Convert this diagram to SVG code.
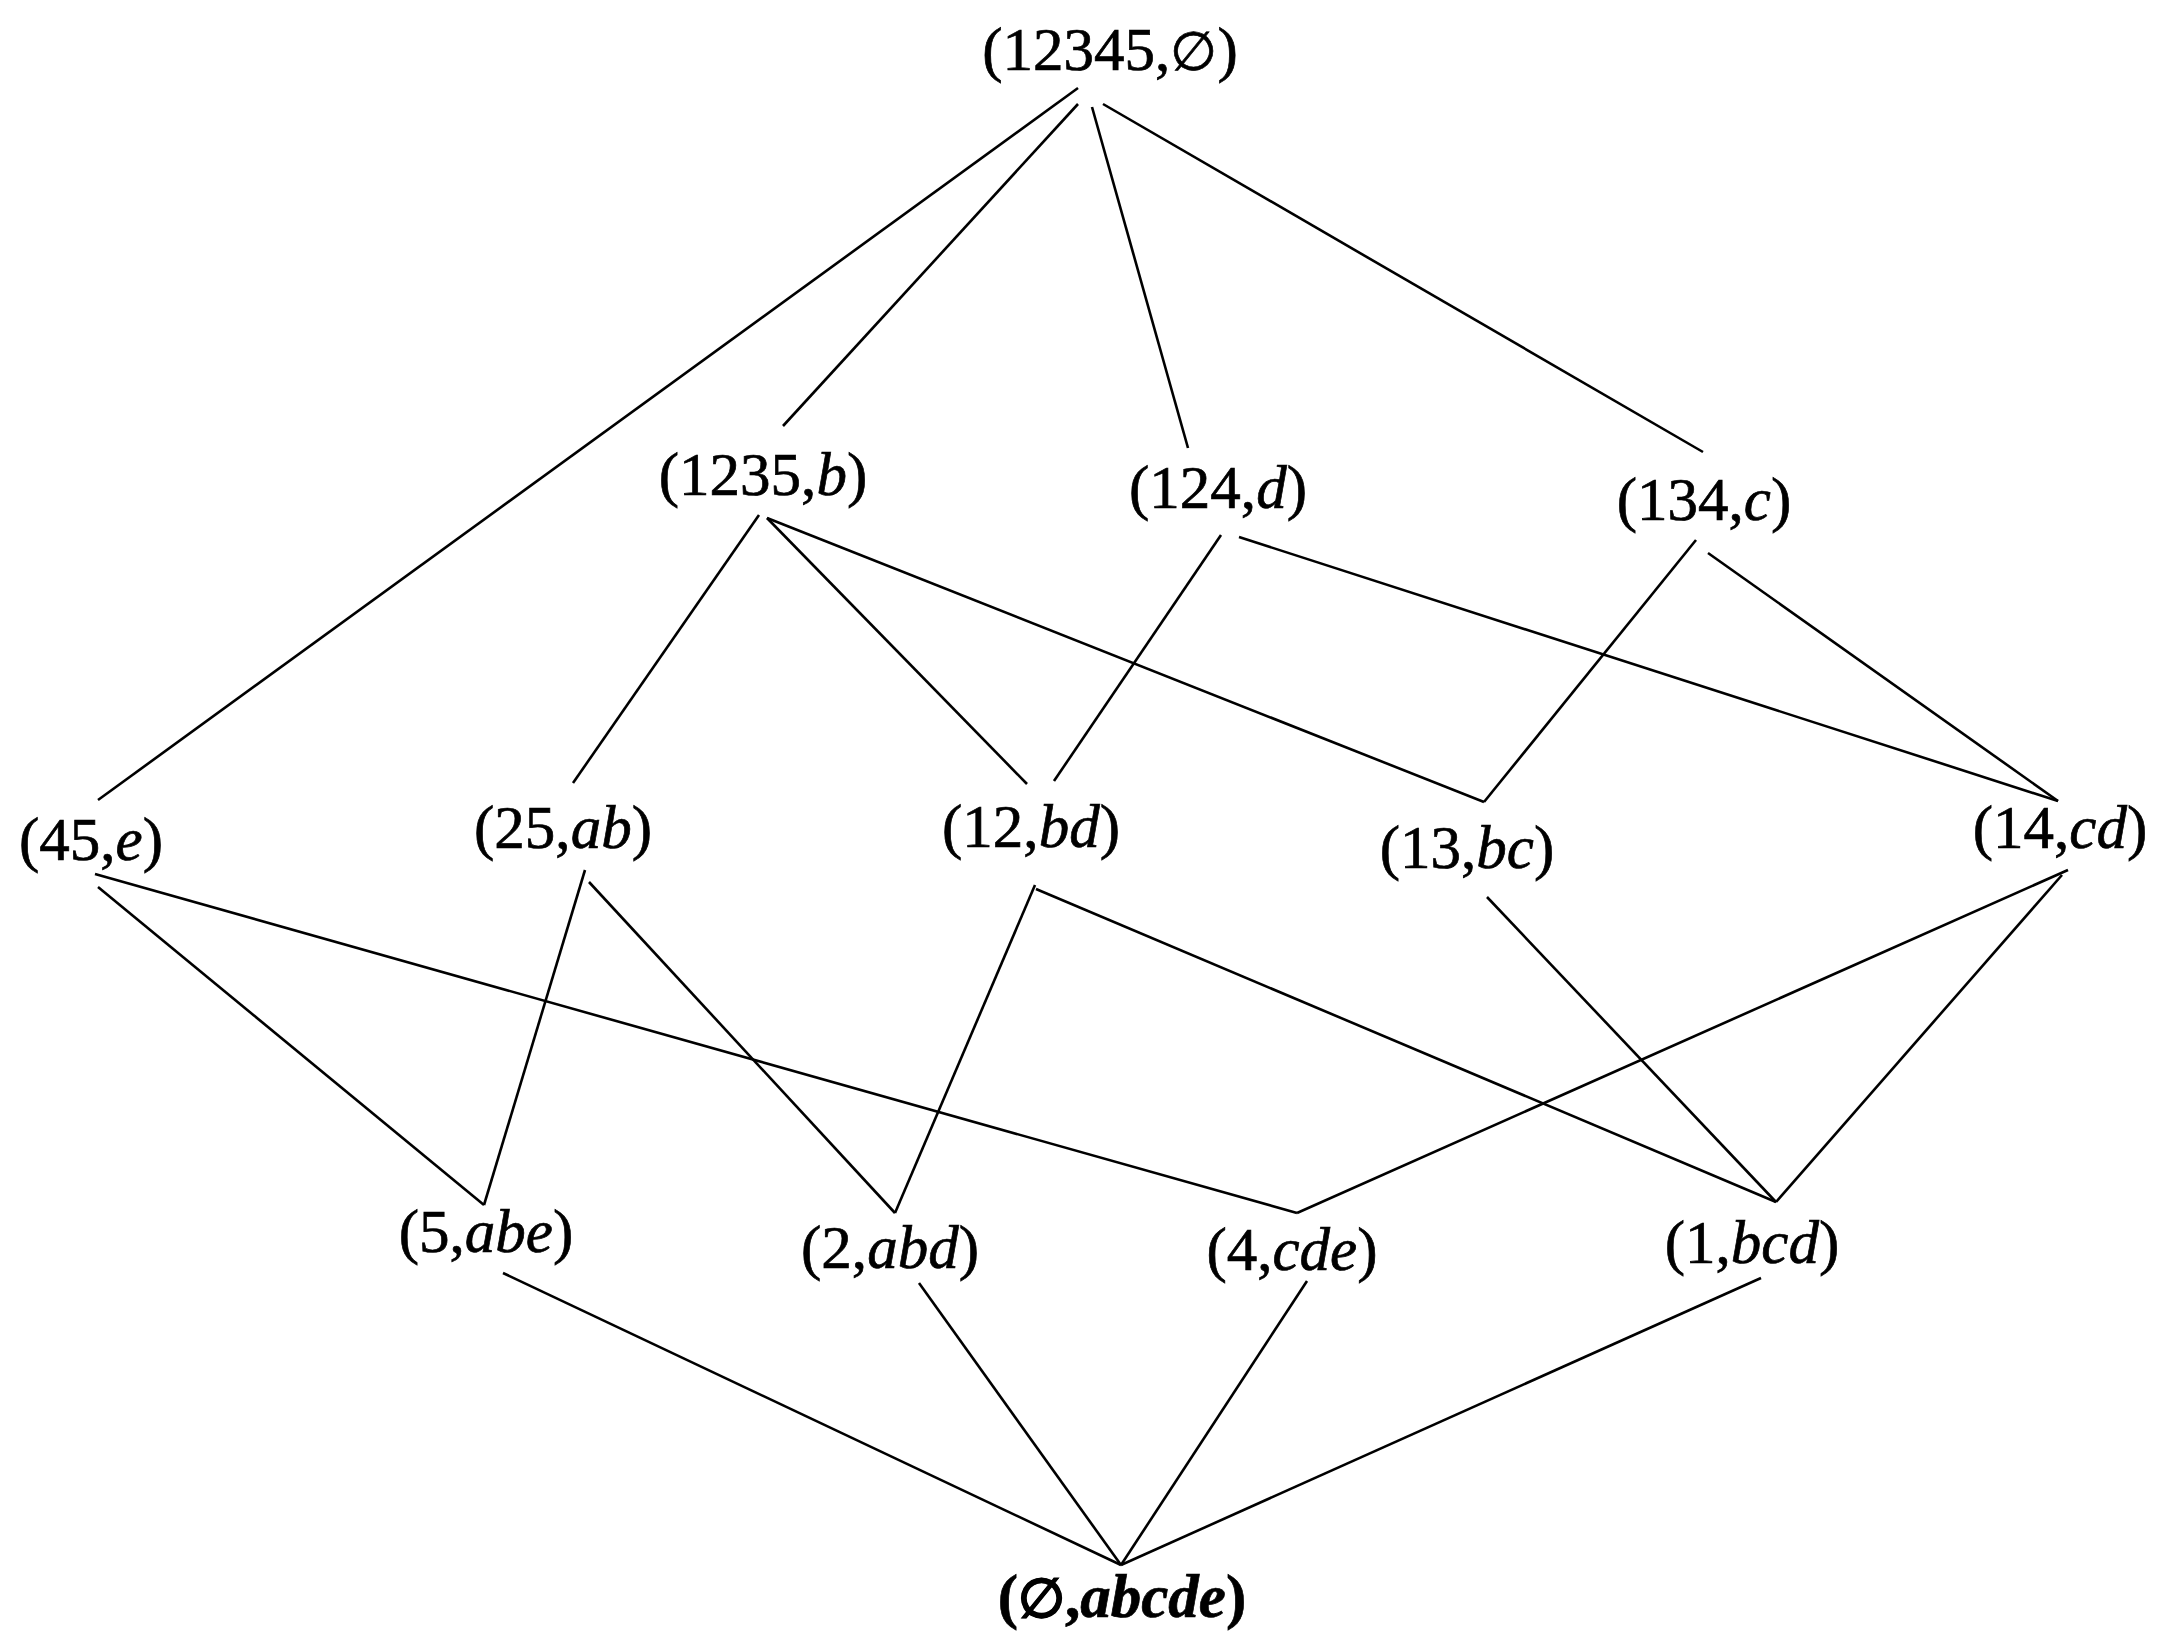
<svg xmlns="http://www.w3.org/2000/svg" width="2165" height="1646" viewBox="0 0 2165 1646">
<style>
text{font-family:"Liberation Serif","Times New Roman",serif;font-size:61px;fill:#000;stroke:#000;stroke-width:0.7;text-anchor:middle}
.i{font-style:italic}
.e{font-family:"DejaVu Serif","Liberation Serif",serif;font-size:54px}
.b{font-weight:bold}
line{stroke:#000;stroke-width:2.6;stroke-linecap:butt}
</style>
<rect width="2165" height="1646" fill="#fff"/>
<g id="connectors">
<line x1="1078" y1="88" x2="98" y2="800"/>
<line x1="1078" y1="104" x2="783" y2="426"/>
<line x1="1092" y1="107" x2="1188" y2="448"/>
<line x1="1103" y1="104" x2="1703" y2="452"/>
<line x1="759" y1="515" x2="573" y2="783"/>
<line x1="767" y1="518" x2="1027" y2="784"/>
<line x1="767" y1="518" x2="1484" y2="802"/>
<line x1="1221" y1="535" x2="1054" y2="781"/>
<line x1="1239" y1="537" x2="2058" y2="801"/>
<line x1="1696" y1="540" x2="1484" y2="802"/>
<line x1="1708" y1="553" x2="2058" y2="801"/>
<line x1="98" y1="887" x2="484" y2="1205"/>
<line x1="95" y1="874" x2="1297" y2="1213"/>
<line x1="585" y1="870" x2="484" y2="1205"/>
<line x1="589" y1="882" x2="895" y2="1213"/>
<line x1="1035" y1="885" x2="895" y2="1213"/>
<line x1="1036" y1="889" x2="1776" y2="1202"/>
<line x1="1487" y1="897" x2="1776" y2="1202"/>
<line x1="2068" y1="870" x2="1297" y2="1213"/>
<line x1="2062" y1="875" x2="1776" y2="1202"/>
<line x1="503" y1="1273" x2="1121" y2="1565"/>
<line x1="919" y1="1283" x2="1121" y2="1565"/>
<line x1="1307" y1="1281" x2="1121" y2="1565"/>
<line x1="1761" y1="1278" x2="1121" y2="1565"/>
</g>
<g id="n0"><text x="1110" y="70">(12345,<tspan class="e">∅</tspan>)</text></g>
<g id="n1"><text x="763" y="495">(1235,<tspan class="i">b</tspan>)</text></g>
<g id="n2"><text x="1218" y="508">(124,<tspan class="i">d</tspan>)</text></g>
<g id="n3"><text x="1704" y="520">(134,<tspan class="i">c</tspan>)</text></g>
<g id="n4"><text x="91" y="860">(45,<tspan class="i">e</tspan>)</text></g>
<g id="n5"><text x="563" y="848">(25,<tspan class="i">ab</tspan>)</text></g>
<g id="n6"><text x="1031" y="847">(12,<tspan class="i">bd</tspan>)</text></g>
<g id="n7"><text x="1467" y="868">(13,<tspan class="i">bc</tspan>)</text></g>
<g id="n8"><text x="2060" y="848">(14,<tspan class="i">cd</tspan>)</text></g>
<g id="n9"><text x="486" y="1252">(5,<tspan class="i">abe</tspan>)</text></g>
<g id="n10"><text x="890" y="1268">(2,<tspan class="i">abd</tspan>)</text></g>
<g id="n11"><text x="1292" y="1270">(4,<tspan class="i">cde</tspan>)</text></g>
<g id="n12"><text x="1752" y="1263">(1,<tspan class="i">bcd</tspan>)</text></g>
<g id="n13"><text class="b" x="1122" y="1617">(<tspan class="e">∅</tspan>,<tspan class="i">abcde</tspan>)</text></g>
</svg>
